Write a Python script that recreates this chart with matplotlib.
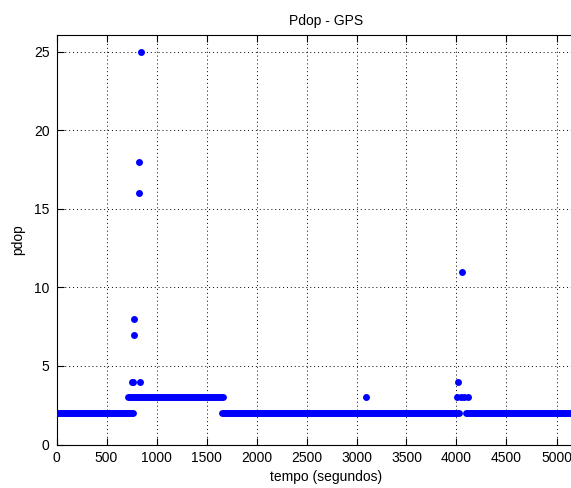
import numpy as np
import matplotlib.pyplot as plt

plt.rcParams['font.family'] = ['Liberation Sans', 'DejaVu Sans']

# trechos com valor constante de pdop: inicio (s), fim (s), valor
run_start = [0, 715, 1650, 4095]
run_end = [765, 1665, 4030, 5400]
run_value = [2, 3, 2, 2]

# amostras isoladas (picos)
pt_tempo = [752, 765, 775, 778, 822, 827, 832, 842, 3090,
            4010, 4012, 4045, 4055, 4080, 4115]
pt_pdop = [4, 4, 7, 8, 16, 18, 4, 25, 3,
           3, 4, 3, 11, 3, 3]

azul = (0, 0, 1)

fig = plt.figure(figsize=(5.71, 4.88), dpi=100)
ax = fig.add_axes([56.5 / 571, 1 - 444.5 / 488, 540 / 571, (444.5 - 35) / 488])

ax.hlines(run_value, run_start, run_end, colors=[azul], linewidth=5,
          capstyle='round', zorder=3)
ax.plot(pt_tempo, pt_pdop, linestyle='none', marker='o', markersize=5,
        color=azul, markeredgewidth=0, zorder=3)

ax.set_xlim(0, 5400)
ax.set_ylim(0, 26.06)
ax.set_xticks(np.arange(0, 5001, 500))
ax.set_yticks(np.arange(0, 26, 5))
ax.grid(True, color='black', linestyle=(0, (1, 3)), linewidth=0.7)
ax.tick_params(direction='in', length=5, top=True, right=True,
               labelsize=10, pad=5)
for s in ax.spines.values():
    s.set_linewidth(0.8)

ax.set_title('Pdop - GPS', fontsize=10, pad=7)
ax.set_xlabel('tempo (segundos)', fontsize=10, labelpad=3)
ax.set_ylabel('pdop', fontsize=10, labelpad=6)

fig.savefig('out.png', dpi=100)
